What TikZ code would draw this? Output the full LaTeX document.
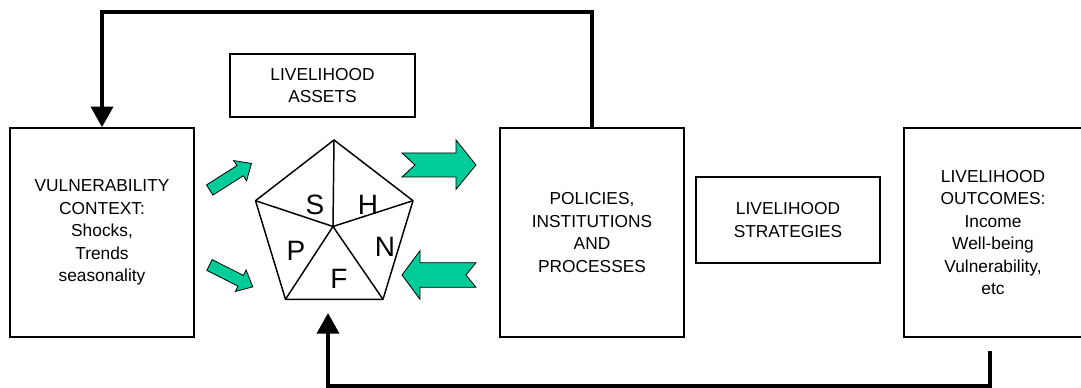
\documentclass[tikz,border=0pt]{standalone}
\usepackage{fontspec}
\setmainfont{Liberation Sans}
\usetikzlibrary{arrows.meta}
\definecolor{arrowgreen}{HTML}{00CC99}
\begin{document}
\begin{tikzpicture}[x=0.75pt,y=-0.75pt,
  box/.style={draw, line width=1.5pt, inner sep=0pt, align=center,
    font=\fontsize{13}{16.9}\selectfont},
  fb/.style={line width=2.8pt, -{Triangle[length=15.5pt,width=16.5pt]}},
  pent/.style={line width=1.1pt, line join=round},
  garrow/.style={fill=arrowgreen, draw=black, line width=0.6pt, line join=miter},
  letter/.style={font=\fontsize{21}{25}\selectfont, inner sep=0pt}]
\useasboundingbox (0,0) rectangle (1081,388);

% boxes
\node[box, minimum width=138pt, minimum height=156.4pt] (vul) at (102,232.5)
  {VULNERABILITY\\CONTEXT:\\Shocks,\\Trends\\seasonality};
\node[box, minimum width=138.75pt, minimum height=47.25pt] (assets) at (322.5,85.5)
  {LIVELIHOOD\\ASSETS};
\node[box, minimum width=138pt, minimum height=156.4pt] (pol) at (592,232.5)
  {POLICIES,\\INSTITUTIONS\\AND\\PROCESSES};
\node[box, minimum width=138pt, minimum height=64.5pt] (strat) at (788,220)
  {LIVELIHOOD\\STRATEGIES};
\node[box, minimum width=134pt, minimum height=156.4pt] (out) at (993,232.5)
  {LIVELIHOOD\\OUTCOMES:\\Income\\Well-being\\Vulnerability,\\etc};

% pentagon
\coordinate (pT) at (334,140);
\coordinate (pL) at (255.5,200.7);
\coordinate (pR) at (413,200.7);
\coordinate (pBL) at (285.5,299.3);
\coordinate (pBR) at (383,299.3);
\coordinate (pC) at (333,226.5);
\draw[pent] (pT)--(pR)--(pBR)--(pBL)--(pL)--cycle;
\draw[pent] (pC)--(pT) (pC)--(pR) (pC)--(pBR) (pC)--(pBL) (pC)--(pL);
\node[letter] (S) at (315,205) {S};
\node[letter] (H) at (368,205) {H};
\node[letter] (P) at (296,251) {P};
\node[letter] (N) at (385,247) {N};
\node[letter] (F) at (339,279) {F};

% feedback loops
\draw[fb] (pol.north) -- ++(0,-115) -| (vul.north);
\coordinate (ob) at (990,351);
\coordinate (ptip) at (328,313);
\draw[fb] (ob) -- ++(0,35) -| (ptip);

% small green arrows
\begin{scope}[shift={(209.7,190)}, rotate=32.4]
  \draw[garrow] (0,-6)--(36,-6)--(36,-12)--(49.5,0)--(36,12)--(36,6)--(0,6)--cycle;
\end{scope}
\begin{scope}[shift={(209.5,265)}, rotate=-26.8]
  \draw[garrow] (0,-6)--(35,-6)--(35,-12)--(48.5,0)--(35,12)--(35,6)--(0,6)--cycle;
\end{scope}

% big notched arrows
\draw[garrow] (402,153)--(456,153)--(456,140)--(476,165)--(456,189.3)--(456,177)--(402,177)--(415,165)--cycle;
\draw[garrow] (402,275)--(420,250.7)--(420,262.7)--(476,262.7)--(466,275)--(476,287.3)--(420,287.3)--(420,299.3)--cycle;
\end{tikzpicture}
\end{document}
